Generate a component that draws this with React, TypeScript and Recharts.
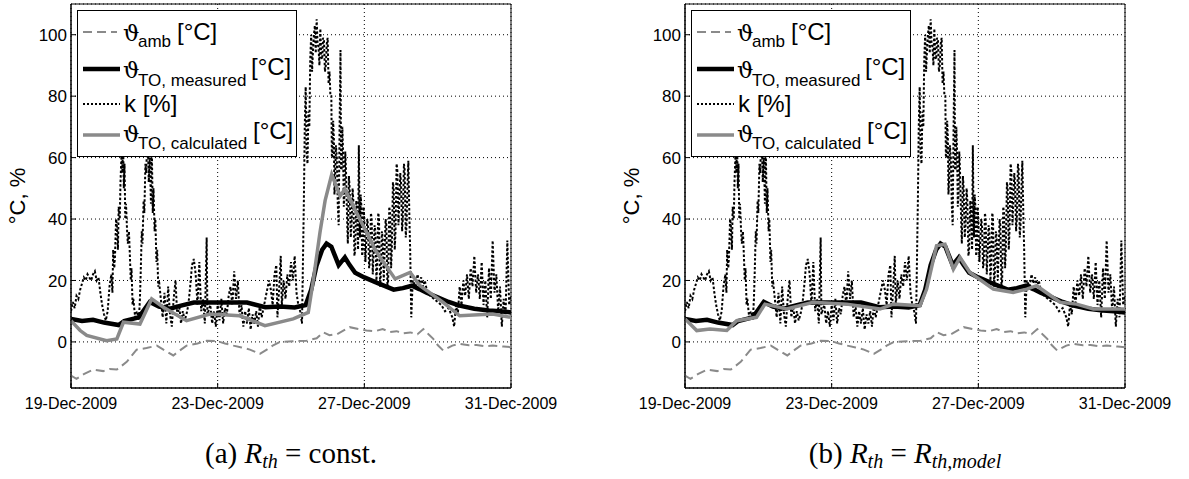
import React from "react";
import { LineChart, Line, XAxis, YAxis, CartesianGrid, ReferenceArea, Legend } from "recharts";

// x = days since 19-Dec-2009 00:00
const dayTicks = [0, 4, 8, 12];
const dayLabels = ["19-Dec-2009", "23-Dec-2009", "27-Dec-2009", "31-Dec-2009"];
const yTicks = [0, 20, 40, 60, 80, 100];

type Pt = [number, number];

const ambient: Pt[] = [
  [0, -11], [0.15, -12], [0.35, -10.5], [0.61, -9], [0.88, -9.5], [1.05, -8.8], [1.25, -9],
  [1.52, -6.5], [1.79, -2.5], [2.06, -2], [2.34, -1.2], [2.52, -2.5], [2.79, -4.4], [3.0, -2.5],
  [3.15, -1.2], [3.45, -0.5], [3.7, 0.4], [3.97, 0.3], [4.2, -0.5], [4.43, -1.2], [4.65, -1.8],
  [4.88, -2.5], [5.15, -3.9], [5.34, -2.5], [5.5, -1.2], [5.7, 0], [6.06, 0.2], [6.43, 0.4],
  [6.7, 1.2], [6.88, 3.1], [7.05, 2.2], [7.25, 2.5], [7.45, 3.8], [7.6, 4.8], [7.85, 4.2],
  [8.06, 3.7], [8.3, 3.5], [8.5, 4.2], [8.7, 3.2], [8.88, 3.5], [9.05, 2.8], [9.25, 3.1],
  [9.45, 2.5], [9.61, 4.2], [9.75, 2.5], [9.88, 1], [10.0, -1], [10.15, -2.8], [10.4, -1.2],
  [10.6, -0.6], [10.85, -1.1], [11.06, -1], [11.3, -1.4], [11.5, -1.2], [11.8, -1.5], [12, -1.7],
];

const measured: Pt[] = [
  [0, 7.5], [0.3, 6.8], [0.6, 7.2], [0.9, 6.3], [1.3, 5.5], [1.45, 6.8], [1.85, 8], [2.15, 13],
  [2.4, 11.5], [2.7, 10.8], [3.0, 11.8], [3.35, 12.8], [4.0, 12.8], [4.8, 12.8], [5.3, 11.3],
  [5.7, 11.5], [6.1, 11.2], [6.4, 12], [6.55, 17], [6.7, 25], [6.85, 30], [6.97, 32], [7.1, 31],
  [7.2, 28], [7.3, 25], [7.47, 27.5], [7.6, 25], [7.75, 22.5], [8.0, 21], [8.35, 19.2],
  [8.6, 18], [8.8, 17], [9.05, 17.5], [9.3, 18.3], [9.5, 17.2], [9.7, 16], [10.0, 14.5],
  [10.3, 13], [10.6, 11.8], [11.0, 10.8], [11.4, 10.2], [11.7, 10], [12, 9.6],
];

const calcConst: Pt[] = [
  [0, 6.9], [0.25, 3.7], [0.43, 2.1], [0.97, 0.4], [1.25, 1], [1.43, 6.4], [1.88, 5.8],
  [2.2, 14], [2.52, 11.3], [3.15, 6.9], [3.79, 9.1], [4.6, 8.5], [5.29, 5.3], [6.06, 7.5],
  [6.47, 9.6], [6.6, 19.4], [6.79, 35.6], [6.93, 46], [7.11, 54.5], [7.34, 47.5], [7.47, 49.7],
  [7.88, 39.9], [8.34, 29.1], [8.84, 20.5], [9.25, 22.6], [9.52, 18.3], [10.15, 12.9],
  [10.6, 8.5], [11.5, 9.1], [12, 8],
];

const calcModel: Pt[] = [
  [0, 7.5], [0.32, 3.7], [0.68, 4.2], [1.14, 3.7], [1.41, 6.9], [1.95, 8], [2.18, 12.3],
  [2.77, 10.7], [3.5, 12.9], [4.41, 12.3], [5.32, 10.7], [5.68, 12.3], [6.41, 11.8],
  [6.59, 17.2], [6.86, 31.3], [7.09, 31.8], [7.32, 23.7], [7.5, 27.5], [7.77, 22.6],
  [8.41, 17.2], [8.95, 16.1], [9.32, 17.2], [9.59, 18.3], [10.23, 12.9], [10.68, 12.3],
  [11.14, 10.7], [12, 10.7],
];

const loadK: Pt[] = [
  [0, 10], [0.05, 13], [0.1, 11], [0.15, 15], [0.2, 14], [0.25, 17], [0.3, 19], [0.35, 21],
  [0.4, 20], [0.45, 22], [0.5, 21], [0.55, 20], [0.6, 22], [0.65, 23], [0.7, 20], [0.75, 21],
  [0.8, 16], [0.85, 12], [0.9, 9], [0.95, 7], [1.0, 10], [1.05, 18],
  [1.1, 22], [1.13, 16], [1.15, 30], [1.18, 24], [1.2, 28], [1.23, 40], [1.25, 38], [1.28, 30],
  [1.3, 44], [1.33, 40], [1.35, 52], [1.38, 62], [1.4, 55], [1.42, 66], [1.44, 50], [1.46, 58],
  [1.48, 40], [1.5, 45], [1.53, 36], [1.55, 32], [1.58, 36], [1.6, 30], [1.63, 20], [1.65, 24],
  [1.68, 12], [1.7, 14], [1.75, 8], [1.8, 10], [1.85, 7], [1.88, 14], [1.9, 22], [1.93, 36],
  [1.95, 32], [1.98, 46], [2.0, 42], [2.03, 58], [2.05, 55], [2.08, 66], [2.1, 64], [2.12, 52],
  [2.15, 60], [2.18, 45], [2.2, 66], [2.23, 42], [2.25, 50], [2.28, 36], [2.3, 40], [2.33, 26],
  [2.35, 30], [2.38, 18], [2.4, 20], [2.45, 14], [2.5, 8],
  [2.55, 16], [2.6, 6], [2.65, 18], [2.7, 9],
  [2.75, 5], [2.8, 14], [2.85, 20], [2.9, 8], [2.95, 12], [3.0, 6], [3.05, 10], [3.1, 7],
  [3.15, 9], [3.2, 12], [3.25, 18], [3.3, 25], [3.35, 27], [3.4, 22], [3.45, 12], [3.5, 26],
  [3.55, 10], [3.6, 14], [3.65, 6], [3.7, 34], [3.72, 9], [3.8, 12], [3.85, 6], [3.9, 10],
  [3.95, 5], [4.0, 12], [4.05, 7], [4.1, 14], [4.15, 6], [4.2, 11], [4.25, 9], [4.3, 15],
  [4.35, 18], [4.4, 12], [4.45, 23], [4.5, 14], [4.55, 20], [4.6, 8], [4.65, 12], [4.7, 5],
  [4.75, 10], [4.8, 6], [4.85, 11], [4.9, 4], [4.95, 9], [5.0, 6], [5.05, 10], [5.1, 5],
  [5.15, 12], [5.2, 8], [5.3, 14], [5.4, 20], [5.45, 17], [5.5, 12], [5.55, 22], [5.6, 25],
  [5.63, 8], [5.68, 18], [5.72, 28], [5.75, 12], [5.8, 20], [5.85, 14], [5.9, 22], [5.95, 18],
  [6.0, 26], [6.05, 20], [6.1, 28], [6.15, 16], [6.2, 12], [6.25, 10], [6.3, 6],
  [6.35, 45], [6.375, 70], [6.4, 83], [6.425, 62], [6.45, 58], [6.475, 75], [6.5, 70],
  [6.525, 92], [6.55, 100], [6.575, 88], [6.6, 95], [6.625, 100], [6.65, 103], [6.675, 94],
  [6.7, 105], [6.725, 97], [6.75, 96], [6.775, 90], [6.8, 102], [6.825, 93], [6.85, 92],
  [6.875, 99], [6.9, 98], [6.925, 88], [6.95, 90], [6.975, 97], [7.0, 99], [7.025, 84],
  [7.05, 88], [7.075, 80], [7.1, 80], [7.115, 60], [7.13, 60], [7.15, 72], [7.17, 66],
  [7.185, 48], [7.2, 52], [7.225, 64], [7.25, 60], [7.275, 45], [7.3, 38], [7.325, 70],
  [7.35, 95], [7.365, 56], [7.38, 56], [7.4, 70], [7.42, 62], [7.44, 44], [7.46, 48],
  [7.48, 62], [7.5, 56], [7.53, 40], [7.55, 32], [7.58, 54], [7.6, 50], [7.63, 34], [7.65, 38],
  [7.68, 50], [7.7, 46], [7.73, 28], [7.75, 30], [7.78, 46], [7.8, 42], [7.83, 30], [7.85, 64],
  [7.87, 40], [7.88, 34], [7.9, 48], [7.92, 44], [7.94, 28], [7.96, 30], [7.98, 44], [8.0, 40],
  [8.03, 26], [8.05, 32], [8.08, 40], [8.1, 38], [8.13, 24], [8.15, 26], [8.18, 42], [8.2, 40],
  [8.23, 22], [8.25, 28], [8.28, 38], [8.3, 36], [8.33, 20], [8.35, 25], [8.38, 42], [8.4, 40],
  [8.43, 18], [8.45, 22], [8.48, 36], [8.5, 34], [8.53, 20], [8.55, 28], [8.58, 40], [8.6, 38],
  [8.63, 18], [8.65, 20], [8.68, 44], [8.7, 42], [8.73, 24], [8.75, 30], [8.78, 52], [8.8, 50],
  [8.83, 30], [8.85, 36], [8.88, 58], [8.9, 56], [8.93, 38], [8.95, 44], [8.98, 55], [9.0, 52],
  [9.03, 36], [9.05, 40], [9.08, 58], [9.1, 56], [9.13, 34], [9.15, 38], [9.18, 52], [9.2, 59],
  [9.23, 40], [9.25, 30], [9.28, 8], [9.32, 20],
  [9.4, 18], [9.45, 22], [9.5, 19], [9.55, 21], [9.6, 18], [9.65, 20], [9.7, 17], [9.8, 15],
  [9.9, 14], [10.0, 13], [10.1, 12], [10.2, 10], [10.3, 11], [10.4, 8], [10.45, 5], [10.5, 12],
  [10.55, 9], [10.6, 18], [10.65, 12], [10.7, 20], [10.75, 15], [10.8, 22], [10.85, 14],
  [10.9, 24], [10.95, 18], [11.0, 28], [11.05, 16], [11.1, 22], [11.15, 14], [11.2, 26],
  [11.25, 12], [11.3, 20], [11.35, 8], [11.4, 24], [11.45, 14], [11.5, 33], [11.55, 16],
  [11.6, 22], [11.65, 10], [11.7, 18], [11.75, 5], [11.8, 14], [11.85, 8], [11.9, 33],
  [11.95, 12], [12, 15],
];

const toRows = (s: Pt[]) => s.map(([d, v]) => ({ d, v }));

const GREY = "#8a8a8a";
const SANS = "'Liberation Sans', Arial, sans-serif";
const SERIF = "'Liberation Serif', 'Times New Roman', serif";

function LegendBox() {
  const main = { fontFamily: SANS, fontSize: 24, fill: "#000" };
  const sub = { fontFamily: SANS, fontSize: 17, fill: "#000" };
  const theta = { fontFamily: "'DejaVu Serif', serif", fontSize: 23, fill: "#000" };
  return (
    <div style={{ width: 220, height: 147, border: "1px solid #000", background: "#fff", boxSizing: "border-box" }}>
      <svg width={218} height={145} style={{ display: "block" }}>
        <line x1={5} x2={39} y1={21} y2={21} stroke={GREY} strokeWidth={2} strokeDasharray="9 5" />
        <text x={45} y={30} style={theta}>ϑ</text>
        <text x={60} y={36} style={sub}>amb</text>
        <text x={99} y={29} style={main}>[°C]</text>

        <line x1={5} x2={42} y1={58} y2={58} stroke="#000" strokeWidth={4.5} />
        <text x={45} y={67} style={theta}>ϑ</text>
        <text x={60} y={75} style={sub}>TO, measured</text>
        <text x={173} y={64} style={main}>[°C]</text>

        <line x1={5} x2={42} y1={93} y2={93} stroke="#000" strokeWidth={2} strokeDasharray="2 2" />
        <text x={46} y={101} style={main}>k [%]</text>

        <line x1={5} x2={42} y1={124} y2={124} stroke={GREY} strokeWidth={3.5} />
        <text x={45} y={131} style={theta}>ϑ</text>
        <text x={60} y={138} style={sub}>TO, calculated</text>
        <text x={175} y={128} style={main}>[°C]</text>
      </svg>
    </div>
  );
}

function YLabel({ viewBox }: any) {
  const x = viewBox.x + 6;
  const y = viewBox.y + viewBox.height / 2;
  return (
    <text x={x} y={y} transform={`rotate(-90 ${x} ${y})`} textAnchor="middle" dominantBaseline="central"
      style={{ fontFamily: SANS, fontSize: 22, fill: "#000" }}>
      °C, %
    </text>
  );
}

function Panel({ calc }: { calc: Pt[] }) {
  const xTick = { fontFamily: SANS, fontSize: 16, fill: "#000" };
  const yTick = { fontFamily: SANS, fontSize: 17, fill: "#000" };
  return (
    <LineChart width={575} height={420} margin={{ top: 4, right: 64, bottom: 0, left: 11 }}>
      <CartesianGrid stroke="#000" strokeDasharray="1 3" strokeWidth={1} />
      <XAxis
        type="number"
        dataKey="d"
        domain={[0, 12]}
        ticks={dayTicks}
        allowDataOverflow
        height={32}
        tickSize={-5}
        tickMargin={15}
        tick={xTick}
        stroke="#000"
        tickFormatter={(v) => dayLabels[dayTicks.indexOf(v)] ?? ""}
      />
      <YAxis
        type="number"
        domain={[-15, 110]}
        ticks={yTicks}
        allowDataOverflow
        width={60}
        tickSize={-5}
        tickMargin={9}
        tick={yTick}
        stroke="#000"
        label={<YLabel />}
      />
      <ReferenceArea x1={0} x2={12} y1={-15} y2={110} fill="none" stroke="#000" strokeWidth={1} ifOverflow="visible" />
      <Line data={toRows(ambient)} dataKey="v" type="linear" stroke={GREY} strokeWidth={2} strokeDasharray="9 5" dot={false} isAnimationActive={false} />
      <Line data={toRows(measured)} dataKey="v" type="linear" stroke="#000" strokeWidth={4.5} dot={false} isAnimationActive={false} />
      <Line data={toRows(loadK)} dataKey="v" type="linear" stroke="#000" strokeWidth={2} strokeDasharray="2.5 2" dot={false} isAnimationActive={false} />
      <Line data={toRows(calc)} dataKey="v" type="linear" stroke={GREY} strokeWidth={3.5} dot={false} isAnimationActive={false} />
      <Legend
        layout="vertical"
        align="center"
        verticalAlign="middle"
        content={() => <LegendBox />}
        wrapperStyle={{ left: 77, top: 10, width: 220, height: 147 }}
      />
    </LineChart>
  );
}

function Caption({ left, children }: { left: number; children: React.ReactNode }) {
  return (
    <div style={{ position: "absolute", left: left - 150, width: 300, top: 437, textAlign: "center", fontFamily: SERIF, fontSize: 29, lineHeight: "32px", color: "#000" }}>
      {children}
    </div>
  );
}

const subStyle: React.CSSProperties = { fontSize: 20, fontStyle: "italic", verticalAlign: "-5px" };

export default function App() {
  return (
    <div style={{ position: "absolute", left: 0, top: 0, width: 1189, height: 479, background: "#fff", overflow: "hidden" }}>
      <div style={{ position: "absolute", left: 0, top: 0 }}>
        <Panel calc={calcConst} />
      </div>
      <div style={{ position: "absolute", left: 614, top: 0 }}>
        <Panel calc={calcModel} />
      </div>
      <Caption left={291}>
        (a) <i>R</i><span style={subStyle}>th</span> = const.
      </Caption>
      <Caption left={905}>
        (b) <i>R</i><span style={subStyle}>th</span> = <i>R</i><span style={subStyle}>th,model</span>
      </Caption>
    </div>
  );
}
